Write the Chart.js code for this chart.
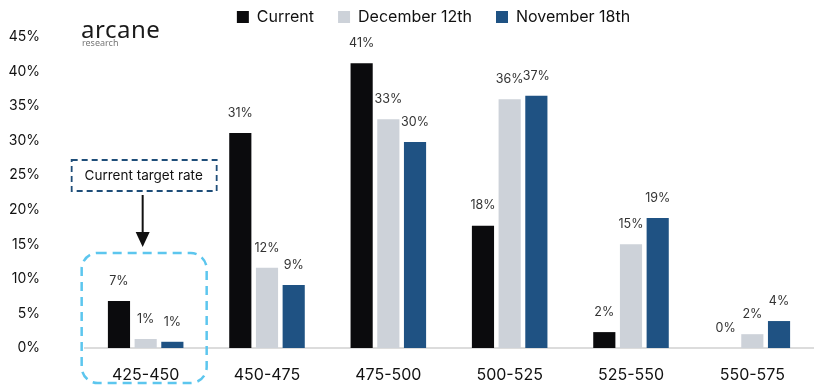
<!DOCTYPE html>
<html>
<head>
<meta charset="utf-8">
<script src="https://cdn.jsdelivr.net/npm/chart.js@4.4.1/dist/chart.umd.min.js"></script>
<style>
  body { margin: 0; background: #fff; }
  #wrap { position: relative; width: 833px; height: 387px; }
  #logo { position: absolute; left: 81px; top: 17px; font-family: "Noto Sans", sans-serif; color: #1a1a1a; }
  #logo .big { font-size: 24px; letter-spacing: 0.5px; line-height: 24px; }
  #logo .small { font-size: 9px; color: #777; line-height: 10px; margin-top: -3px; margin-left: 1px; }
</style>
</head>
<body>
<div id="wrap">
  <canvas id="rateChart" width="833" height="387"></canvas>
  <div id="logo"><div class="big">arcane</div><div class="small">research</div></div>
</div>
<script>
// Datos
const categories = ["425-450", "450-475", "475-500", "500-525", "525-550", "550-575"];
const current = [6.8, 31.1, 41.2, 17.7, 2.3, 0];
const december12 = [1.3, 11.6, 33.1, 36.0, 15.0, 2.0];
const november18 = [0.9, 9.1, 29.8, 36.5, 18.8, 3.9];
const seriesNames = ["Current", "December 12th", "November 18th"];
const seriesColors = ["#0b0b0d", "#cdd2d9", "#1f5283"];
const fontFamily = "Inter, 'Noto Sans', sans-serif";

// Alto fijo de la leyenda y posición de sus elementos
const legendPlace = {
    id: 'legendPlace',
    beforeInit(chart) {
        const fit = chart.legend.fit;
        chart.legend.fit = function () {
            fit.bind(chart.legend)();
            this.height = 37;
        };
    },
    afterLayout(chart) {
        const l = chart.legend;
        l.top = -15;
        l.left = 17;
        l.right = 850;
    }
};

// Etiquetas de valor encima de las barras
const valueLabels = {
    id: 'valueLabels',
    afterDatasetsDraw(chart) {
        const ctx = chart.ctx;
        ctx.save();
        ctx.font = "12.5px " + fontFamily;
        ctx.fillStyle = "#333";
        ctx.textAlign = "center";
        ctx.textBaseline = "middle";
        chart.data.datasets.forEach((ds, i) => {
            chart.getDatasetMeta(i).data.forEach((bar, j) => {
                ctx.fillText(Math.round(ds.data[j]) + "%", bar.x, bar.y - 20);
            });
        });
        ctx.restore();
    }
};

// Caja "Current target rate", flecha y marco punteado
const targetNote = {
    id: 'targetNote',
    afterDraw(chart) {
        const ctx = chart.ctx;
        const x = chart.scales.x;
        const y = chart.scales.y;
        const cx = x.getPixelForValue(0);
        const base = y.getPixelForValue(0);
        ctx.save();

        // marco celeste redondeado
        ctx.strokeStyle = "#5cc6ee";
        ctx.lineWidth = 2.5;
        ctx.setLineDash([9, 6]);
        ctx.beginPath();
        const top = y.getPixelForValue(13.75);
        ctx.roundRect(cx - 64, top, 125, base + 35 - top, 16);
        ctx.stroke();

        // caja del texto
        const boxTop = y.getPixelForValue(27.2);
        ctx.strokeStyle = "#1f4e79";
        ctx.lineWidth = 1.8;
        ctx.setLineDash([6, 4]);
        ctx.strokeRect(cx - 74, boxTop, 145, 31);
        ctx.setLineDash([]);
        ctx.font = "13.5px " + fontFamily;
        ctx.fillStyle = "#111";
        ctx.textAlign = "center";
        ctx.textBaseline = "middle";
        ctx.fillText("Current target rate", cx - 2, boxTop + 16);

        // flecha
        const ax = cx - 3;
        const tip = y.getPixelForValue(14.6);
        ctx.strokeStyle = "#111";
        ctx.lineWidth = 2;
        ctx.beginPath();
        ctx.moveTo(ax, boxTop + 35);
        ctx.lineTo(ax, tip - 12);
        ctx.stroke();
        ctx.fillStyle = "#111";
        ctx.beginPath();
        ctx.moveTo(ax - 7, tip - 15);
        ctx.lineTo(ax + 7, tip - 15);
        ctx.lineTo(ax, tip);
        ctx.closePath();
        ctx.fill();
        ctx.restore();
    }
};

const ctx = document.getElementById('rateChart').getContext('2d');
new Chart(ctx, {
    type: 'bar',
    data: {
        labels: categories,
        datasets: [current, december12, november18].map((d, i) => ({
            label: seriesNames[i],
            data: d,
            backgroundColor: seriesColors[i],
            categoryPercentage: 0.66,
            barPercentage: 0.83
        }))
    },
    plugins: [legendPlace, valueLabels, targetNote],
    options: {
        responsive: false,
        animation: false,
        layout: { autoPadding: false, padding: { left: 0, right: 20, top: 0, bottom: 0 } },
        plugins: {
            tooltip: { enabled: false },
            legend: {
                position: 'top',
                labels: {
                    boxWidth: 12,
                    boxHeight: 12,
                    padding: 24,
                    color: "#111",
                    font: { family: fontFamily, size: 16 }
                }
            }
        },
        scales: {
            x: {
                grid: { display: false },
                border: { color: "#dcdcdc", width: 2 },
                ticks: { color: "#111", font: { family: fontFamily, size: 16 }, padding: 10 },
                afterFit: s => { s.height = 39; }
            },
            y: {
                min: 0,
                max: 45,
                grid: { display: false },
                border: { display: false },
                afterFit: s => { s.width = 85; s.paddingTop = 0; s.paddingBottom = 0; },
                ticks: {
                    stepSize: 5,
                    padding: 37,
                    color: "#111",
                    font: { family: fontFamily, size: 14 },
                    callback: v => v + "%"
                }
            }
        }
    }
});
</script>
</body>
</html>
